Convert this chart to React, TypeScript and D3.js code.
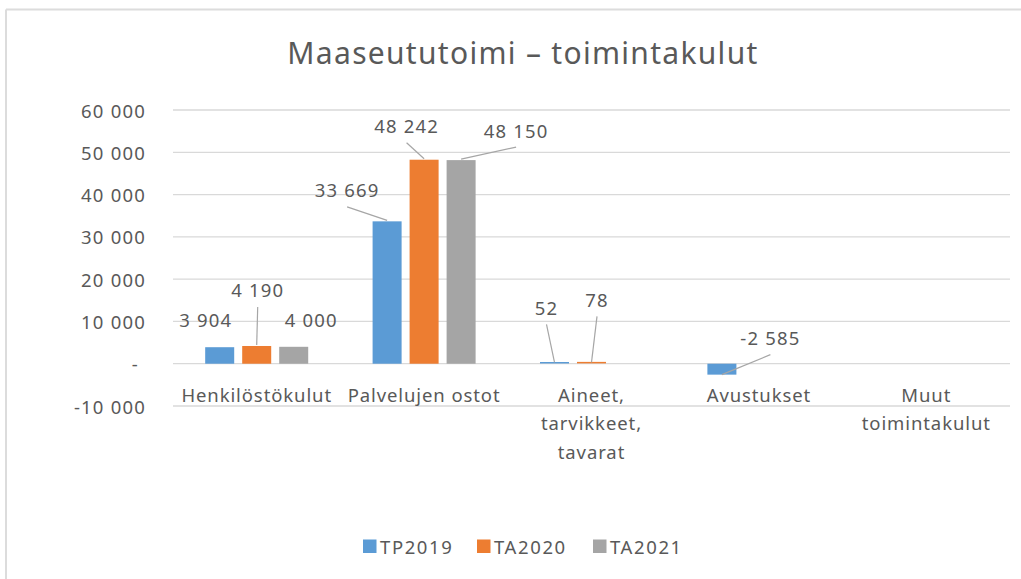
import React from "react";
import * as d3 from "d3";

const categories = [
  "Henkilöstökulut",
  "Palvelujen ostot",
  "Aineet, tarvikkeet, tavarat",
  "Avustukset",
  "Muut toimintakulut",
];
const categoryLines = [
  ["Henkilöstökulut"],
  ["Palvelujen ostot"],
  ["Aineet,", "tarvikkeet,", "tavarat"],
  ["Avustukset"],
  ["Muut", "toimintakulut"],
];
const seriesNames = ["TP2019", "TA2020", "TA2021"];
const tp2019 = [3904, 33669, 52, -2585, null];
const ta2020 = [4190, 48242, 78, null, null];
const ta2021 = [4000, 48150, null, null, null];
const yTicks = [-10000, 0, 10000, 20000, 30000, 40000, 50000, 60000];
const title = "Maaseututoimi – toimintakulut";

const colors = ["#5B9BD5", "#ED7D31", "#A5A5A5"];
// manual label offsets (dx, dy) from bar end, per series per category, and whether a leader line is drawn
const labelOffsets: ([number, number, boolean] | null)[][] = [
  [[-14, -27.5, false], [-40, -31.5, true], [-8, -56, true], [48.5, -37, true], null],
  [[1, -56, true], [-17.5, -34, true], [5.5, -64, true], null, null],
  [[17.5, -27, false], [55, -30, true], null, null, null],
];

const W = 1021;
const H = 579;
const plotLeft = 173;
const plotRight = 1010;
const textColor = "#595959";
const font = "'Noto Sans', sans-serif";

function fmt(v: number) {
  if (v === 0) return "-";
  const s = d3.format(",")(Math.abs(v)).replace(/,/g, " ");
  return (v < 0 ? "-" : "") + s;
}

export default function App() {
  const data = [tp2019, ta2020, ta2021];
  const y = d3.scaleLinear().domain([-10000, 60000]).range([406, 110]);
  const x0 = d3.scaleBand<string>().domain(categories).range([plotLeft, plotRight]).padding(0);
  const x1 = d3
    .scaleBand<string>()
    .domain(seriesNames)
    .range([0, x0.bandwidth()])
    .paddingInner(0.216)
    .paddingOuter(0.87);

  const legendItems = [
    { x: 363, name: seriesNames[0] },
    { x: 477, name: seriesNames[1] },
    { x: 593, name: seriesNames[2] },
  ];

  return (
    <svg
      width={W}
      height={H}
      style={{ position: "absolute", left: 0, top: 0, background: "#fff" }}
      fontFamily={font}
    >
      <rect x={0} y={0} width={W} height={H} fill="#fff" />
      <line x1={6} y1={9.5} x2={W} y2={9.5} stroke="#DCDCDC" strokeWidth={2} />
      <line x1={6} y1={9.5} x2={6} y2={H} stroke="#DCDCDC" strokeWidth={2} />

      <text
        x={523}
        y={52}
        textAnchor="middle"
        dominantBaseline="central"
        fontSize={30}
        fill={textColor}
        letterSpacing={1.3}
      >
        {title}
      </text>

      {yTicks.map((t) => (
        <g key={t}>
          <line x1={plotLeft} x2={plotRight} y1={y(t)} y2={y(t)} stroke="#D9D9D9" strokeWidth={1.3} />
          <text
            x={t === 0 ? 139 : 146}
            y={y(t)}
            textAnchor="end"
            dominantBaseline="central"
            fontSize={18.5}
            fill={textColor}
            letterSpacing={1.2}
          >
            {fmt(t)}
          </text>
        </g>
      ))}

      {categories.map((c, ci) =>
        data.map((series, si) => {
          const v = series[ci];
          if (v === null || v === undefined) return null;
          const bx = (x0(c) as number) + (x1(seriesNames[si]) as number);
          const bw = x1.bandwidth();
          const y0 = y(0);
          const yv = y(v);
          return (
            <rect
              key={c + si}
              x={bx}
              y={Math.min(y0, yv) - (v >= 0 && Math.abs(yv - y0) < 1.5 ? 1.5 : 0)}
              width={bw}
              height={Math.max(Math.abs(yv - y0), 1.5)}
              fill={colors[si]}
            />
          );
        })
      )}

      {categories.map((c, ci) =>
        data.map((series, si) => {
          const v = series[ci];
          const off = labelOffsets[si][ci];
          if (v === null || v === undefined || !off) return null;
          const cx = (x0(c) as number) + (x1(seriesNames[si]) as number) + x1.bandwidth() / 2;
          const ay = y(v);
          const lx = cx + off[0];
          const ly = ay + off[1];
          return (
            <g key={"l" + c + si}>
              {off[2] && (
                <line x1={lx} y1={ly + 17} x2={cx} y2={ay - (v >= 0 ? 1 : 0)} stroke="#A6A6A6" strokeWidth={1.2} />
              )}
              <text
                x={lx}
                y={ly}
                textAnchor="middle"
                dominantBaseline="central"
                fontSize={18.5}
                fill={textColor}
                letterSpacing={1.2}
              >
                {fmt(v)}
              </text>
            </g>
          );
        })
      )}

      {categories.map((c, ci) => (
        <text
          key={"c" + c}
          x={(x0(c) as number) + x0.bandwidth() / 2}
          y={394}
          textAnchor="middle"
          fontSize={18.5}
          fill={textColor}
          letterSpacing={0.9}
        >
          {categoryLines[ci].map((ln, li) => (
            <tspan key={li} x={(x0(c) as number) + x0.bandwidth() / 2} y={394 + li * 28.5} dominantBaseline="central">
              {ln}
            </tspan>
          ))}
        </text>
      ))}

      {legendItems.map((it, i) => (
        <g key={it.name}>
          <rect x={it.x} y={539.5} width={13.5} height={13.5} fill={colors[i]} />
          <text
            x={it.x + 17}
            y={546.5}
            dominantBaseline="central"
            fontSize={18.5}
            fill={textColor}
            letterSpacing={1.6}
          >
            {it.name}
          </text>
        </g>
      ))}
    </svg>
  );
}
